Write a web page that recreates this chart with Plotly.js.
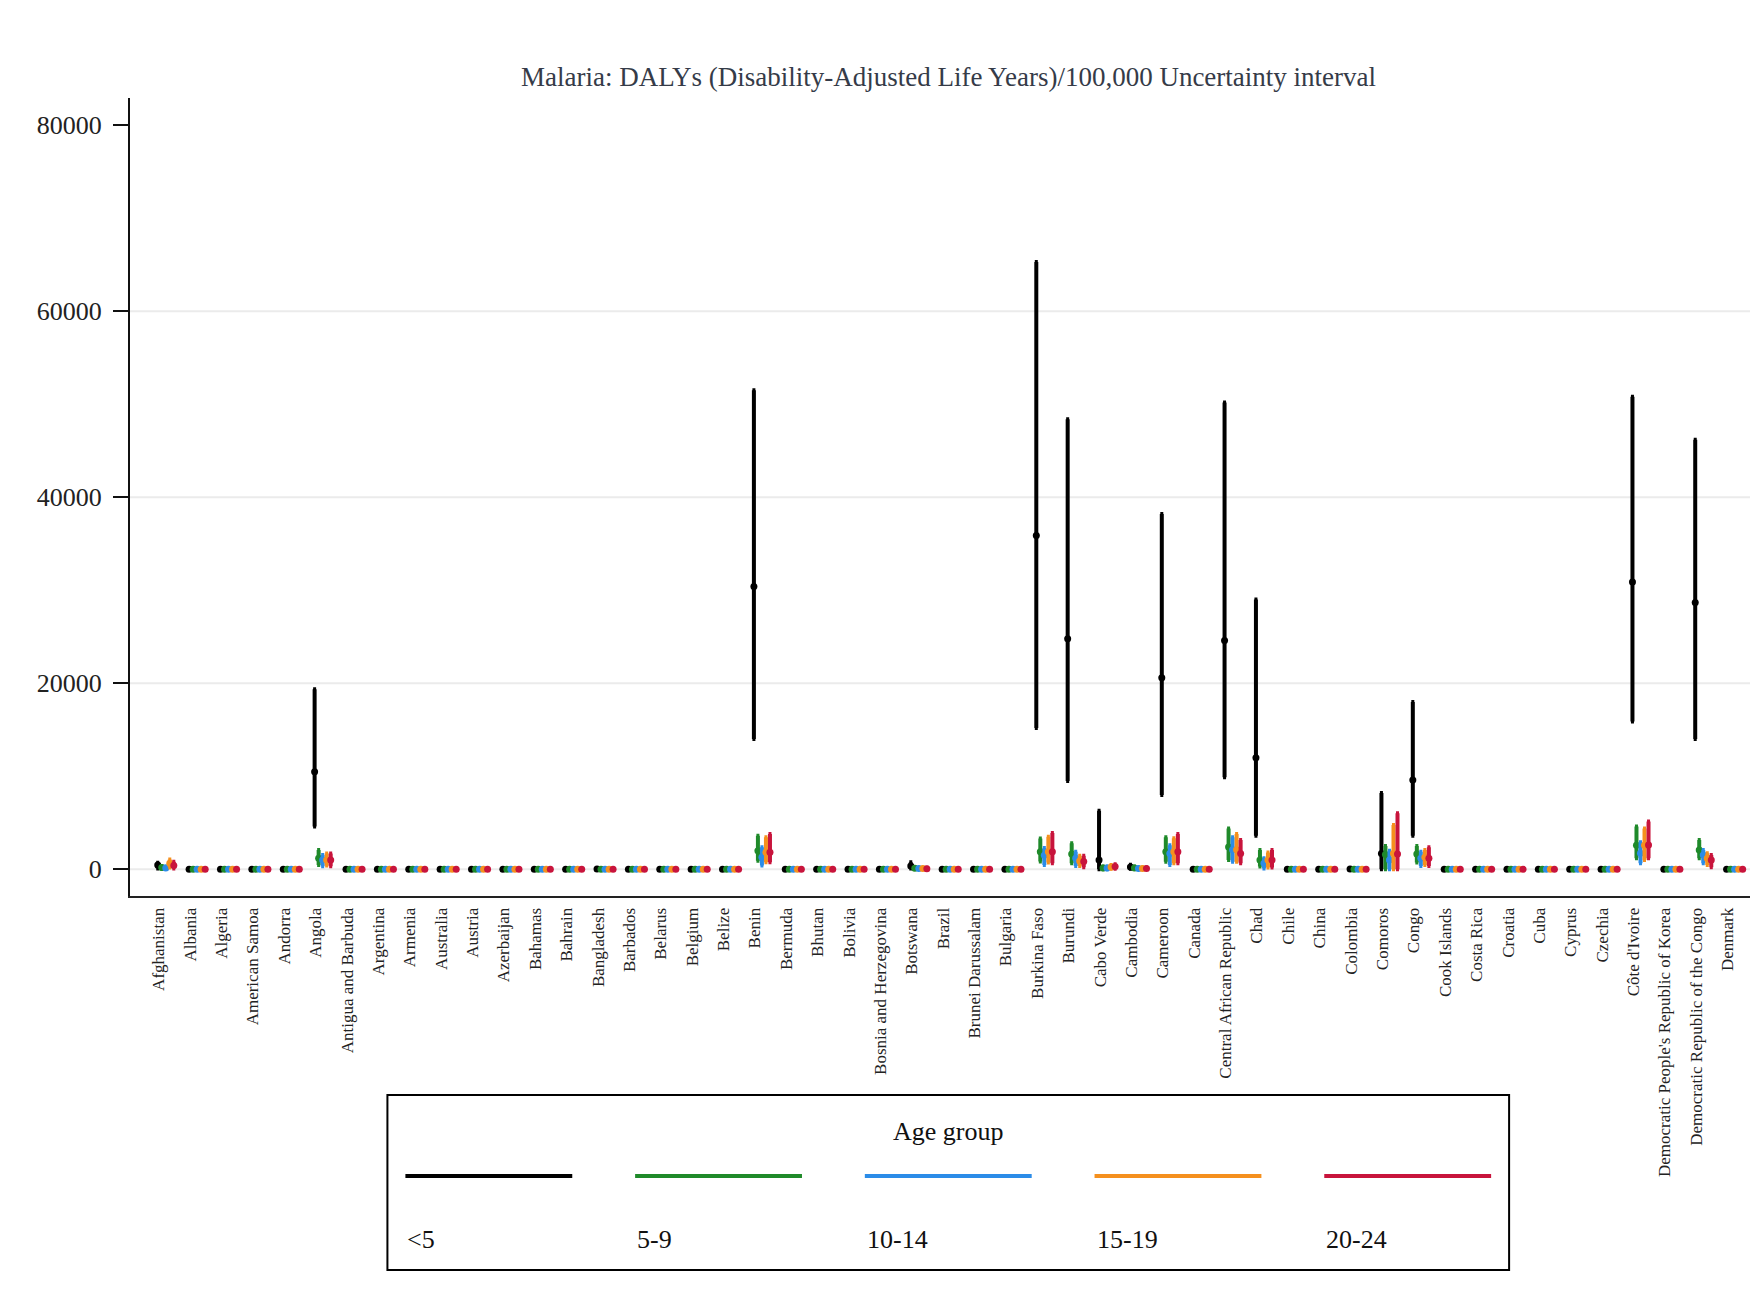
<!DOCTYPE html>
<html>
<head>
<meta charset="utf-8">
<script src="https://cdn.plot.ly/plotly-3.0.1.min.js"></script>
<style>html,body{margin:0;padding:0;background:#fff;}#chart{width:1750px;height:1289px;}</style>
</head>
<body>
<div id="chart"></div>
<script>
const countries = ["Afghanistan","Albania","Algeria","American Samoa","Andorra","Angola","Antigua and Barbuda","Argentina","Armenia","Australia",
"Austria","Azerbaijan","Bahamas","Bahrain","Bangladesh","Barbados","Belarus","Belgium","Belize","Benin",
"Bermuda","Bhutan","Bolivia","Bosnia and Herzegovina","Botswana","Brazil","Brunei Darussalam","Bulgaria","Burkina Faso","Burundi",
"Cabo Verde","Cambodia","Cameroon","Canada","Central African Republic","Chad","Chile","China","Colombia","Comoros",
"Congo","Cook Islands","Costa Rica","Croatia","Cuba","Cyprus","Czechia","Côte d'Ivoire","Democratic People's Republic of Korea","Democratic Republic of the Congo","Denmark"];

const ageGroups = ["<5","5-9","10-14","15-19","20-24"];
const groupColors = ["#000000","#1f8a2a","#2b8ce8","#f5901e","#c8143c"];

// <5
const meanU5 = [450,0,0,0,0,10500,0,0,0,0, 0,0,0,0,20,0,0,0,0,30400, 0,0,10,0,350,10,0,0,35900,24800, 1000,250,20600,0,24600,12000,0,0,30,1700, 9600,0,0,0,0,0,0,30900,0,28700,0];
const lowU5  = [100,0,0,0,0,4600,0,0,0,0, 0,0,0,0,0,0,0,0,0,14000, 0,0,0,0,100,0,0,0,15200,9500, 0,50,8000,0,9900,3600,0,0,0,0, 3600,0,0,0,0,0,0,15900,0,14000,0];
const highU5 = [700,0,0,0,0,19350,0,0,0,0, 0,0,0,0,60,0,0,0,0,51500, 0,0,40,0,750,40,0,0,65300,48400, 6300,500,38200,0,50200,29000,0,0,80,8200, 18000,0,0,0,0,0,0,50800,0,46200,0];
// 5-9
const mean5to9 = [200,0,0,0,0,1180,0,0,0,0, 0,0,0,0,10,0,0,0,0,2000, 0,0,0,0,120,0,0,0,1900,1650, 150,150,1900,0,2400,1000,0,0,10,1600, 1650,0,0,0,0,0,0,2600,0,2080,0];
const low5to9  = [50,0,0,0,0,460,0,0,0,0, 0,0,0,0,0,0,0,0,0,930, 0,0,0,0,30,0,0,0,830,650, 0,50,820,0,1000,290,0,0,0,0, 720,0,0,0,0,0,0,1180,0,1180,0];
const high5to9 = [350,0,0,0,0,2080,0,0,0,0, 0,0,0,0,30,0,0,0,0,3620, 0,0,0,0,250,0,0,0,3300,2800, 300,300,3440,0,4400,2080,0,0,30,2500, 2500,0,0,0,0,0,0,4590,0,3150,0];
// 10-14
const mean10to14 = [150,0,0,0,0,1000,0,0,0,0, 0,0,0,0,5,0,0,0,0,1300, 0,0,0,0,80,0,0,0,1500,1200, 150,100,1700,0,2100,650,0,0,5,1000, 1180,0,0,0,0,0,0,1720,0,1540,0];
const low10to14  = [50,0,0,0,0,320,0,0,0,0, 0,0,0,0,0,0,0,0,0,400, 0,0,0,0,20,0,0,0,470,360, 0,20,470,0,820,100,0,0,0,0, 360,0,0,0,0,0,0,650,0,650,0];
const high10to14 = [300,0,0,0,0,1550,0,0,0,0, 0,0,0,0,15,0,0,0,0,2370, 0,0,0,0,180,0,0,0,2300,1900, 300,200,2600,0,3440,1180,0,0,15,2000, 1900,0,0,0,0,0,0,2900,0,2080,0];
// 15-19
const mean15to19 = [650,0,0,0,0,1000,0,0,0,0, 0,0,0,0,5,0,0,0,0,1830, 0,0,0,0,80,0,0,0,1900,900, 250,100,1900,0,2100,1000,0,0,5,1700, 1300,0,0,0,0,0,0,2600,0,1180,0];
const low15to19  = [200,0,0,0,0,400,0,0,0,0, 0,0,0,0,0,0,0,0,0,750, 0,0,0,0,20,0,0,0,720,360, 50,20,650,0,820,200,0,0,0,0, 470,0,0,0,0,0,0,1000,0,470,0];
const high15to19 = [1050,0,0,0,0,1700,0,0,0,0, 0,0,0,0,15,0,0,0,0,3440, 0,0,0,0,180,0,0,0,3500,1450, 450,200,3330,0,3800,1800,0,0,15,4770, 2080,0,0,0,0,0,0,4400,0,1720,0];
// 20-24
const mean20to24 = [400,0,0,0,0,1000,0,0,0,0, 0,0,0,0,5,0,0,0,0,1830, 0,0,0,0,70,0,0,0,1900,850, 300,100,1900,0,1700,1000,0,0,5,1650, 1180,0,0,0,0,0,0,2620,0,1000,0];
const low20to24  = [100,0,0,0,0,320,0,0,0,0, 0,0,0,0,0,0,0,0,0,750, 0,0,0,0,20,0,0,0,650,220, 50,20,650,0,650,200,0,0,0,0, 360,0,0,0,0,0,0,1180,0,220,0];
const high20to24 = [800,0,0,0,0,1700,0,0,0,0, 0,0,0,0,15,0,0,0,0,3800, 0,0,0,0,160,0,0,0,3900,1450, 550,200,3800,0,3150,2080,0,0,15,6020, 2370,0,0,0,0,0,0,5130,0,1540,0];

const yTickVals = [0,20000,40000,60000,80000];
const yGridVals = [0,20000,40000,60000];

const means = [meanU5, mean5to9, mean10to14, mean15to19, mean20to24];
const lows  = [lowU5, low5to9, low10to14, low15to19, low20to24];
const highs = [highU5, high5to9, high10to14, high15to19, high20to24];

const FONT = 'Liberation Serif, Times New Roman, serif';

const traces = ageGroups.map((g, i) => ({
  type: 'scatter',
  mode: 'markers',
  name: g,
  x: countries,
  y: means[i],
  offsetgroup: 'g' + i,
  showlegend: false,
  marker: {color: groupColors[i], size: 7},
  error_y: {
    type: 'data',
    symmetric: false,
    array: highs[i].map((h, k) => h - means[i][k]),
    arrayminus: lows[i].map((l, k) => means[i][k] - l),
    color: groupColors[i],
    thickness: 4,
    width: 1.5
  },
  hoverinfo: 'x+y+name'
}));

// light horizontal grid (no line at the top tick, as in the reference)
const shapes = yGridVals.map(v => ({
  type: 'line', xref: 'paper', yref: 'y', x0: 0, x1: 1, y0: v, y1: v,
  line: {color: '#ebebeb', width: 2}, layer: 'below'
}));

// custom legend (line above label) built from the group arrays
const legStart = 0.170, legStep = 0.1418, legLen = 0.103, legLineY = -0.3509, legLabelY = -0.431;
shapes.push({
  type: 'rect', xref: 'paper', yref: 'paper',
  x0: 0.1589, x1: 0.8513, y0: -0.4687, y1: -0.2494,
  line: {color: '#000', width: 2}, fillcolor: 'rgba(0,0,0,0)'
});
const annotations = [{
  text: 'Age group', xref: 'paper', yref: 'paper', x: 0.5051, y: -0.2945,
  xanchor: 'center', yanchor: 'middle', showarrow: false,
  font: {family: FONT, size: 26, color: '#111'}
}];
ageGroups.forEach((g, i) => {
  const x0 = legStart + i * legStep;
  shapes.push({type: 'line', xref: 'paper', yref: 'paper', x0: x0, x1: x0 + legLen, y0: legLineY, y1: legLineY,
    line: {color: groupColors[i], width: 4}});
  annotations.push({text: g.replace('<', '&lt;'), xref: 'paper', yref: 'paper', x: x0, y: legLabelY,
    xanchor: 'left', yanchor: 'middle', showarrow: false,
    font: {family: FONT, size: 26, color: '#111'}});
});

const layout = {
  width: 1750, height: 1289,
  paper_bgcolor: '#ffffff', plot_bgcolor: '#ffffff',
  margin: {l: 130, r: 0, t: 98, b: 393, pad: 0},
  font: {family: FONT, color: '#222'},
  title: {
    text: 'Malaria: DALYs (Disability-Adjusted Life Years)/100,000 Uncertainty interval',
    font: {family: FONT, size: 27, color: '#353b48'},
    xref: 'container', yref: 'container', x: 0.542, y: 0.941, xanchor: 'center', yanchor: 'middle'
  },
  scattermode: 'group',
  scattergap: 0.36,
  showlegend: false,
  xaxis: {
    type: 'category',
    range: [-1.14, 50.49],
    tickangle: -90,
    tickfont: {family: FONT, size: 17, color: '#222'},
    showline: true, linecolor: '#222', linewidth: 2,
    showgrid: false, zeroline: false,
    ticks: '', ticklabelstandoff: 3, ticklabelshift: -7,
    fixedrange: true
  },
  yaxis: {
    range: [-2870, 82935],
    tickvals: yTickVals,
    ticktext: yTickVals.map(String),
    tickfont: {family: FONT, size: 26, color: '#222'},
    ticks: 'outside', ticklen: 15, tickwidth: 2, tickcolor: '#111',
    ticklabelstandoff: 6,
    showline: true, linecolor: '#111', linewidth: 2,
    showgrid: false,
    zeroline: false,
    fixedrange: true
  },
  shapes: shapes,
  annotations: annotations
};

Plotly.newPlot('chart', traces, layout, {staticPlot: true, displayModeBar: false});
</script>
</body>
</html>
